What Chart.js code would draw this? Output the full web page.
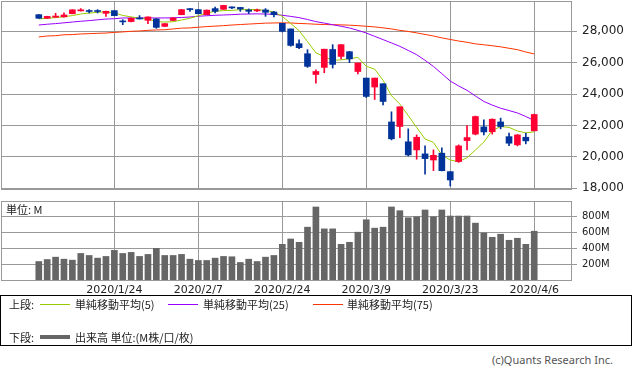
<!DOCTYPE html>
<html>
<head>
<meta charset="utf-8">
<script src="https://cdn.jsdelivr.net/npm/chart.js@4.4.1/dist/chart.umd.min.js"></script>
<style>
  body { margin: 0; width: 633px; height: 374px; position: relative; background: #fff; overflow: hidden;
         font-family: "Noto Sans CJK JP", sans-serif; }
  canvas { position: absolute; left: 0; }
  .t { position: absolute; font-size: 11px; line-height: 13px; color: #222; white-space: nowrap; }
  .ln { position: absolute; width: 30px; height: 1px; }
  #legend { position: absolute; left: 0; top: 295px; width: 632px; height: 51px; border: 1px solid #000; box-sizing: border-box; }
</style>
</head>
<body>
<canvas id="price" width="633" height="196" style="top:0"></canvas>
<canvas id="vol" width="633" height="100" style="top:196px"></canvas>
<div class="t" style="left:6px;top:203px">単位: M</div>

<div id="legend"></div>
<div class="t" style="left:9px;top:298px">上段:</div>
<div class="ln" style="left:40px;top:304px;background:#99cc00"></div>
<div class="t" style="left:75px;top:298px">単純移動平均(5)</div>
<div class="ln" style="left:168px;top:304px;background:#9900ff"></div>
<div class="t" style="left:203px;top:298px">単純移動平均(25)</div>
<div class="ln" style="left:313px;top:304px;background:#ff3300"></div>
<div class="t" style="left:347px;top:298px">単純移動平均(75)</div>
<div class="t" style="left:9px;top:331px">下段:</div>
<div class="ln" style="left:40px;top:335px;height:4px;background:#666"></div>
<div class="t" style="left:75px;top:331px">出来高 単位:(M株/口/枚)</div>
<div class="t" style="right:20px;top:353px;color:#555;font-family:'Noto Sans',sans-serif">(c)Quants Research Inc.</div>

<script>
// trading days shown on the chart
const dates = [
  '2020/1/10','2020/1/13','2020/1/14','2020/1/15','2020/1/16','2020/1/17','2020/1/21','2020/1/22','2020/1/23','2020/1/24',
  '2020/1/27','2020/1/28','2020/1/29','2020/1/30','2020/1/31','2020/2/3','2020/2/4','2020/2/5','2020/2/6','2020/2/7',
  '2020/2/10','2020/2/11','2020/2/12','2020/2/13','2020/2/14','2020/2/18','2020/2/19','2020/2/20','2020/2/21','2020/2/24',
  '2020/2/25','2020/2/26','2020/2/27','2020/2/28','2020/3/2','2020/3/3','2020/3/4','2020/3/5','2020/3/6','2020/3/9',
  '2020/3/10','2020/3/11','2020/3/12','2020/3/13','2020/3/16','2020/3/17','2020/3/18','2020/3/19','2020/3/20','2020/3/23',
  '2020/3/24','2020/3/25','2020/3/26','2020/3/27','2020/3/30','2020/3/31','2020/4/1','2020/4/2','2020/4/3','2020/4/6'
];
const tickDates = ['2020/1/24', '2020/2/7', '2020/2/24', '2020/3/9', '2020/3/23', '2020/4/6'];

const open = [
  29060,28830,28900,28920,29120,29300,29320,29300,29145,29317,
  28620,28620,28850,28700,28790,28315,28690,29060,29425,29380,
  29060,29445,29400,29550,29520,29360,29300,29360,29230,28507,
  28150,27210,26570,25250,25700,26840,26400,26700,25440,25020,
  24450,24660,22225,21935,20960,20445,20190,19800,20235,19060,
  19700,21040,21450,21910,21600,22225,21290,20765,21250,21660
];
const high = [
  29070,28960,29150,29170,29380,29445,29380,29380,29280,29320,
  28740,28850,29000,28920,28810,28490,28870,29400,29440,29390,
  29360,29550,29660,29560,29530,29425,29420,29445,29270,28510,
  28150,27460,26830,25550,26860,27150,27150,26720,25980,25020,
  25020,24660,22870,23190,21785,21400,20700,20445,20570,19060,
  20764,22000,22600,22355,22420,22470,21510,21420,21510,22720
];
const low = [
  28820,28820,28880,28900,29110,29290,29170,29170,28950,28990,
  28420,28600,28780,28490,28190,28300,28680,29050,29272,29110,
  29050,29170,29390,29440,29270,29125,29250,28953,28910,27957,
  27050,26900,25700,24700,25360,25660,26234,26000,25280,23783,
  23655,23317,21083,21230,20062,19852,18900,19125,19110,18150,
  19650,20445,21400,21400,21450,21785,20720,20700,20830,21660
];
const close = [
  28830,28950,28970,29040,29370,29370,29260,29260,29272,28998,
  28600,28830,28787,28915,28250,28488,28850,29380,29380,29120,
  29350,29272,29650,29490,29420,29272,29360,29210,29062,27996,
  27100,26955,25765,25440,26860,25890,27150,26240,25980,23850,
  25020,23530,21150,23190,20125,21250,19890,20100,19120,18530,
  20700,21230,22570,21590,22400,21930,20870,21400,21020,22700
];

// moving averages
const ma5 = [
  28790,28830,28870,28930,29000,29100,29160,29210,29240,29180,
  29010,28920,28830,28770,28620,28590,28610,28720,28830,28990,
  29170,29270,29320,29330,29380,29380,29390,29320,29240,28950,
  28500,28040,27350,26630,26380,26150,26180,26250,26340,25770,
  25590,24880,23900,23360,22630,21870,21140,20920,20120,19800,
  19690,19950,20440,20940,21680,21930,21880,21650,21530,21600
];
const ma25 = [
  28400,28450,28490,28540,28590,28640,28680,28730,28780,28800,
  28850,28850,28850,28850,28850,28850,28860,28880,28910,28960,
  28990,29020,29040,29060,29090,29100,29110,29100,29080,29020,
  28950,28870,28750,28620,28520,28420,28320,28210,28060,27890,
  27680,27470,27260,27040,26780,26510,26150,25760,25300,24830,
  24520,24240,23880,23530,23300,23100,22950,22800,22570,22320
];
const ma75 = [
  27640,27700,27720,27780,27790,27830,27850,27870,27890,27930,
  27960,28000,28020,28060,28085,28100,28150,28200,28215,28260,
  28300,28330,28360,28400,28430,28460,28490,28520,28530,28540,
  28530,28500,28480,28450,28430,28420,28410,28390,28360,28320,
  28280,28220,28150,28060,27990,27900,27800,27700,27580,27480,
  27380,27300,27200,27140,27080,27010,26920,26830,26680,26560
];

// volume, millions
const volume = [
  241,266,295,270,258,341,316,283,304,379,
  341,354,304,329,404,316,316,329,270,254,
  254,283,304,300,229,270,241,295,316,454,
  520,479,666,916,645,645,454,479,604,758,
  654,666,916,870,783,795,879,795,879,804,
  804,804,716,595,541,579,504,529,454,616
];

const priceTicks = [18000, 20000, 22000, 24000, 26000, 28000];
const volumeTicks = [200, 400, 600, 800];

const UP = '#ff0033';
const DOWN = '#003399';
const GRID = '#999999';
const TEXT = '#222222';

const idx = dates.map((d, i) => i);
const tickPos = tickDates.map(d => dates.indexOf(d));
const candleColor = c => close[c.dataIndex] >= open[c.dataIndex] ? UP : DOWN;

// grey frame round the plot area
const framePlugin = {
  id: 'frame',
  afterDraw(chart) {
    const { ctx, chartArea: a } = chart;
    ctx.save();
    ctx.strokeStyle = GRID;
    ctx.lineWidth = 1;
    ctx.strokeRect(Math.round(a.left) + 0.5, Math.round(a.top) + 0.5,
      Math.round(a.right - a.left) - 1, Math.round(a.bottom - a.top) - 1);
    ctx.restore();
  }
};

// no label overhang padding, sizes fixed by hand
function noPad(s) {
  s.paddingTop = 0; s.paddingBottom = 0; s.paddingLeft = 0; s.paddingRight = 0;
}

function xAxis(showLabels) {
  return {
    type: 'linear',
    min: -4.5,
    max: 63.5,
    offset: false,
    afterBuildTicks: s => { s.ticks = tickPos.map(v => ({ value: v })); },
    afterFit: s => { s.height = showLabels ? 15 : 0; noPad(s); },
    grid: { color: GRID, drawTicks: false, offset: false },
    border: { display: false },
    ticks: {
      display: showLabels, autoSkip: false, maxRotation: 0, padding: 3, color: TEXT,
      font: { family: 'DejaVu Sans', size: 11 },
      callback: (v, i) => tickDates[i]
    }
  };
}

function yAxis(min, max, ticks, size, fmt) {
  return {
    position: 'right',
    min: min,
    max: max,
    afterBuildTicks: s => { s.ticks = ticks.map(v => ({ value: v })); },
    afterFit: s => { s.width = 61; noPad(s); },
    grid: { color: GRID, tickLength: 5 },
    border: { display: false },
    ticks: { padding: 5, color: TEXT, font: { family: 'DejaVu Sans', size: size }, callback: fmt }
  };
}

const common = {
  responsive: false,
  animation: false,
  events: [],
  plugins: { legend: { display: false }, tooltip: { enabled: false } }
};

new Chart(document.getElementById('price'), {
  type: 'bar',
  data: {
    datasets: [
      { type: 'line', data: idx.map(i => ({ x: i, y: ma75[i] })), borderColor: '#ff3300', borderWidth: 1, pointRadius: 0, order: 5 },
      { type: 'line', data: idx.map(i => ({ x: i, y: ma25[i] })), borderColor: '#9900ff', borderWidth: 1, pointRadius: 0, order: 4 },
      { type: 'line', data: idx.map(i => ({ x: i, y: ma5[i] })), borderColor: '#99cc00', borderWidth: 1, pointRadius: 0, order: 3 },
      { data: idx.map(i => ({ x: i, y: [low[i], high[i]] })), backgroundColor: candleColor, barThickness: 1, grouped: false, order: 2 },
      { data: idx.map(i => ({ x: i, y: [open[i], close[i]] })), backgroundColor: candleColor, barThickness: 6, minBarLength: 1, grouped: false, order: 1 }
    ]
  },
  options: {
    ...common,
    layout: { padding: { left: 1, top: 1, right: 0, bottom: 6 } },
    scales: {
      x: xAxis(false),
      y: yAxis(17890, 29930, priceTicks, 12, v => v.toLocaleString('en-US'))
    }
  },
  plugins: [framePlugin]
});

new Chart(document.getElementById('vol'), {
  type: 'bar',
  data: {
    datasets: [
      { data: idx.map(i => ({ x: i, y: volume[i] })), backgroundColor: '#666666', barThickness: 6 }
    ]
  },
  options: {
    ...common,
    layout: { padding: { left: 1, top: 5, right: 0, bottom: 0 } },
    scales: {
      x: xAxis(true),
      y: yAxis(0, 990, volumeTicks, 10, v => v + 'M')
    }
  },
  plugins: [framePlugin]
});
</script>
</body>
</html>
